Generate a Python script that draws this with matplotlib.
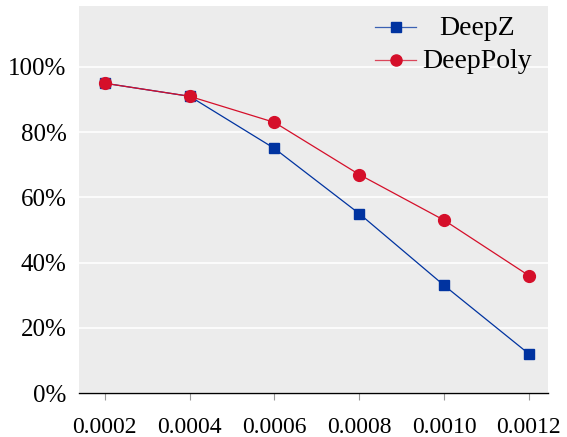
import matplotlib
matplotlib.use("Agg")
import matplotlib.pyplot as plt
from matplotlib.ticker import FuncFormatter

eps = [0.0002, 0.0004, 0.0006, 0.0008, 0.0010, 0.0012]
eps_labels = ["0.0002", "0.0004", "0.0006", "0.0008", "0.0010", "0.0012"]
deepz = [95, 91, 75, 55, 33, 12]
deeppoly = [95, 91, 83, 67, 53, 36]
series = [("DeepZ", deepz, '#0033a0', 's', 7), ("DeepPoly", deeppoly, '#d50f2a', 'o', 8.5)]

plt.rcParams['font.family'] = ['Liberation Serif', 'DejaVu Serif']

fig = plt.figure(figsize=(5.67, 4.37), dpi=100)
ax = fig.add_axes([79 / 567, 1 - 393 / 437, (548 - 79) / 567, (393 - 6) / 437])
ax.set_facecolor('#ececec')

for name, vals, col, mk, ms in series:
    ax.plot(eps, vals, color=col, lw=0.9, marker=mk, ms=ms, zorder=3)

ax.set_xlim(0.000139, 0.001245)
ax.set_ylim(0, 118.7)
ax.set_yticks([0, 20, 40, 60, 80, 100])
ax.yaxis.set_major_formatter(FuncFormatter(lambda v, p: f"{int(v)}%"))
ax.set_xticks(eps)
ax.set_xticklabels(eps_labels)
ax.grid(axis='y', color='white', lw=1.2)
ax.set_axisbelow(True)

for s in ['top', 'right', 'left']:
    ax.spines[s].set_visible(False)
ax.spines['bottom'].set_color('black')
ax.spines['bottom'].set_linewidth(1.0)
ax.tick_params(axis='y', length=0, labelsize=18, pad=9)
ax.tick_params(axis='x', length=5, color='#999999', labelsize=17, pad=12)

# legend drawn by hand so that labels are centred like the original
rows = [(0.9457, 0.925), (0.8605, 0.8398)]
for (name, vals, col, mk, ms), (ym, yb) in zip(series, rows):
    ax.plot([0.631, 0.7186], [ym, ym], color=col, lw=0.9, alpha=0.75,
            transform=ax.transAxes, clip_on=False)
    ax.plot([0.675], [ym], color=col, marker=mk, ms=ms - 0.5,
            transform=ax.transAxes, clip_on=False)
    ax.text(0.8486, yb, name, ha='center', va='baseline', fontsize=20,
            transform=ax.transAxes)

fig.savefig('out.png', dpi=100)
